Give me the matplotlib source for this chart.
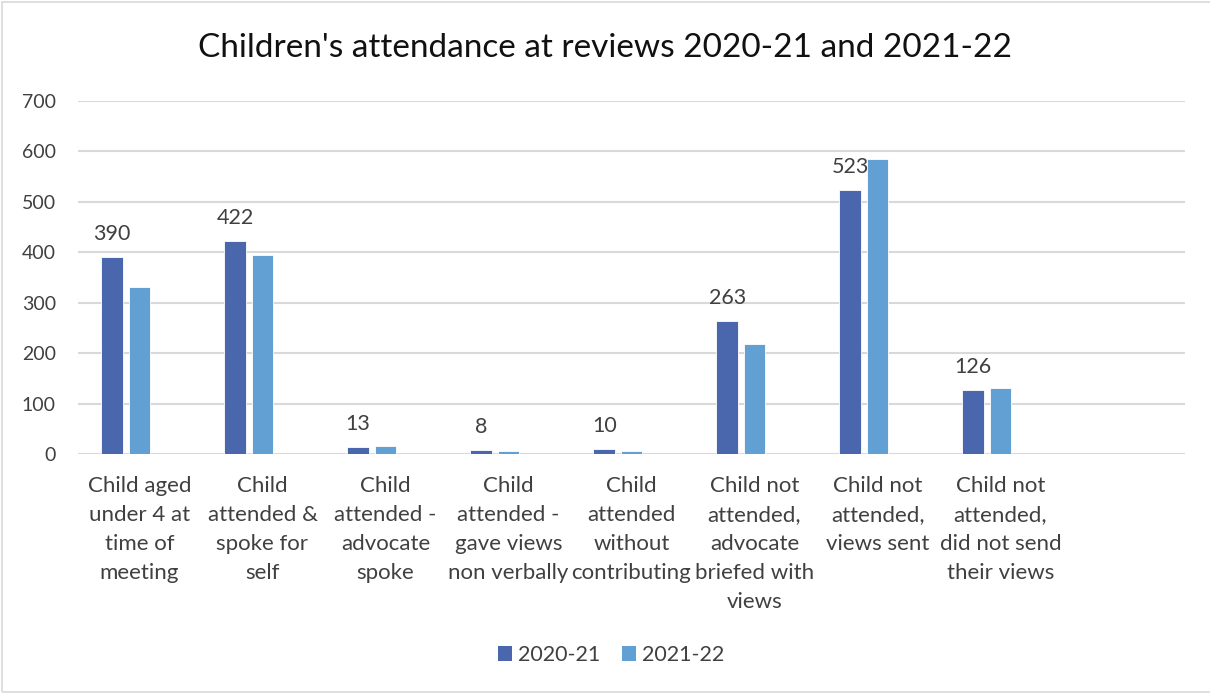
import matplotlib
matplotlib.use("Agg")
import matplotlib.pyplot as plt
from matplotlib.patches import Rectangle, Patch
import numpy as np

plt.rcParams['font.family'] = ['Lato', 'DejaVu Sans']

categories = [
    "Child aged\nunder 4 at\ntime of\nmeeting",
    "Child\nattended &\nspoke for\nself",
    "Child\nattended -\nadvocate\nspoke",
    "Child\nattended -\ngave views\nnon verbally",
    "Child\nattended\nwithout\ncontributing",
    "Child not\nattended,\nadvocate\nbriefed with\nviews",
    "Child not\nattended,\nviews sent",
    "Child not\nattended,\ndid not send\ntheir views",
    "",
]
series_names = ["2020-21", "2021-22"]
values_2020_21 = [390, 422, 13, 8, 10, 263, 523, 126, None]
values_2021_22 = [331, 394, 16, 5, 5, 218, 584, 131, None]
yticks = [0, 100, 200, 300, 400, 500, 600, 700]

c_dark = "#4a66ad"
c_light = "#629fd3"
text_col = "#404040"

W, H = 1210, 693
fig = plt.figure(figsize=(W / 100, H / 100), dpi=100)
fig.patch.set_facecolor("white")
fig.add_artist(Rectangle((1.5 / W, 1.5 / H), 1.1, 1 - 3 / H, transform=fig.transFigure,
                         fill=False, edgecolor="#d9d9d9", linewidth=1.2))

ax = fig.add_axes([78 / W, 1 - 454 / H, (1185 - 78) / W, (454 - 101) / H])
x = np.arange(len(categories))
bw = 0.176
step = 0.222
v1 = [np.nan if v is None else v for v in values_2020_21]
v2 = [np.nan if v is None else v for v in values_2021_22]
ax.bar(x - step, v1, width=bw, color=c_dark, edgecolor="white", linewidth=0.6, zorder=3)
ax.bar(x, v2, width=bw, color=c_light, edgecolor="white", linewidth=0.6, zorder=3)

for xi, v in zip(x, values_2020_21):
    if v is not None:
        ax.text(xi - step, v + 26, str(v), ha="center", va="bottom",
                fontsize=15.5, color=text_col, zorder=4)

ax.set_xlim(-0.5, len(categories) - 0.5)
ax.set_ylim(0, 700)
ax.set_yticks(yticks)
ax.set_yticklabels([str(t) for t in yticks], fontsize=14, color=text_col)
ax.set_xticks(x)
ax.set_xticklabels(categories, fontsize=16, color=text_col, linespacing=1.56, va="top")
ax.tick_params(axis="both", length=0)
ax.tick_params(axis="y", pad=16)
ax.tick_params(axis="x", pad=16)
ax.grid(axis="y", color="#d9d9d9", linewidth=1.5, zorder=0)
ax.set_axisbelow(True)
for s in ax.spines.values():
    s.set_visible(False)

fig.text(0.5, 1 - 48 / H, "Children's attendance at reviews 2020-21 and 2021-22",
         ha="center", va="center", fontsize=24, color="#111111")

handles = [Patch(facecolor=c_dark, label=series_names[0]),
           Patch(facecolor=c_light, label=series_names[1])]
fig.legend(handles=handles, loc="center", bbox_to_anchor=(611 / W, 1 - 655 / H), ncol=2,
           frameon=False, fontsize=15.5, handlelength=0.65, handleheight=0.65,
           handletextpad=0.3, columnspacing=1.0, labelcolor=text_col)

fig.savefig("out.png", dpi=100, facecolor="white")
